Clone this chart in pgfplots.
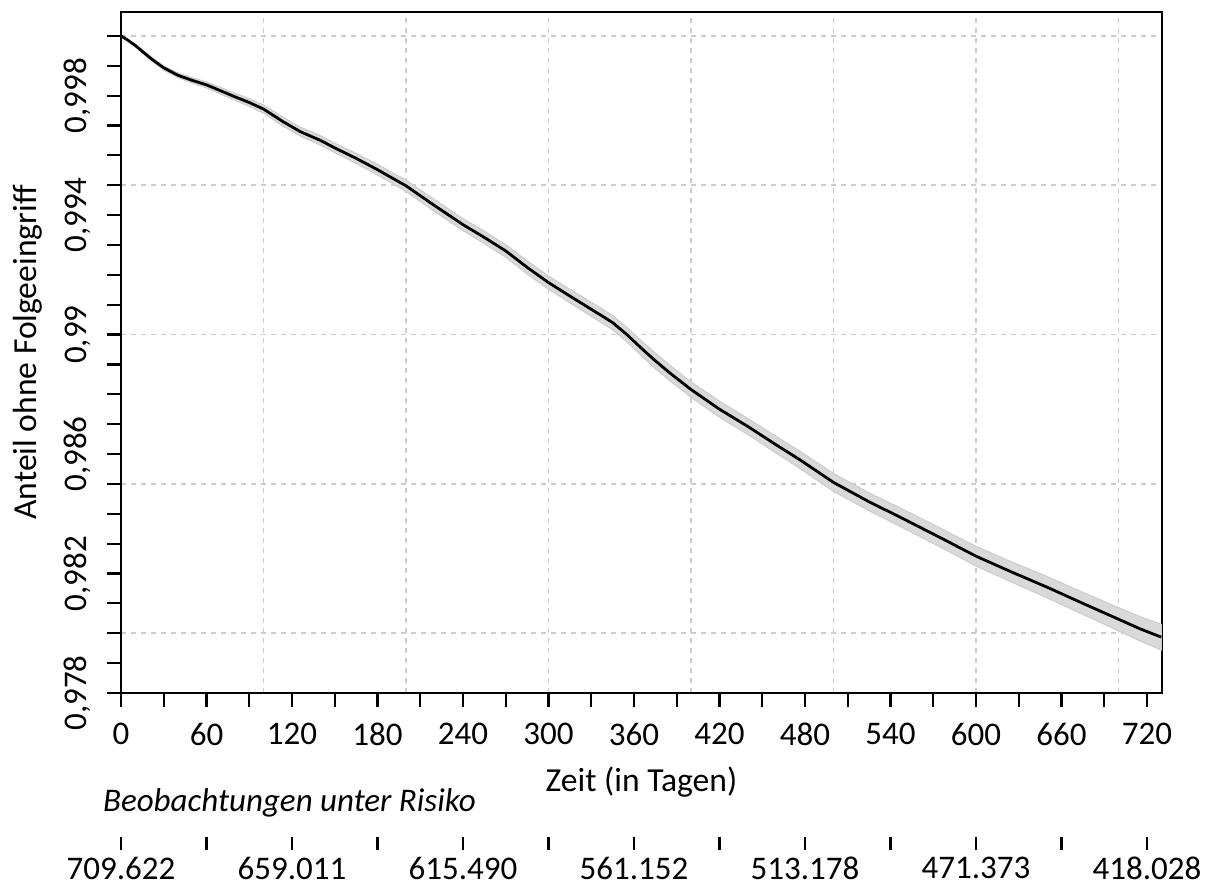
\documentclass[border=0pt]{standalone}
\usepackage{pgfplots}
\pgfplotsset{compat=1.18}
\usepackage{pgfplotstable}
\usepgfplotslibrary{fillbetween}
\usepackage{fontspec}
\setmainfont{Carlito}

\pgfplotstableread{
t s lo hi
0 1.00000 1.00000 1.00000
5 0.99985 0.99983 0.99987
10 0.99968 0.99964 0.99972
15 0.99948 0.99943 0.99953
20 0.99928 0.99922 0.99934
25 0.99910 0.99904 0.99916
30 0.99893 0.99886 0.99900
40 0.99868 0.99860 0.99876
50 0.99851 0.99842 0.99860
60 0.99836 0.99826 0.99846
70 0.99816 0.99805 0.99827
80 0.99796 0.99784 0.99808
90 0.99777 0.99764 0.99790
100 0.99755 0.99741 0.99769
114 0.99712 0.99697 0.99727
126 0.99679 0.99664 0.99694
140 0.99650 0.99634 0.99666
150 0.99625 0.99609 0.99641
165 0.99590 0.99573 0.99607
180 0.99552 0.99534 0.99570
190 0.99525 0.99507 0.99543
200 0.99498 0.99479 0.99517
220 0.99432 0.99412 0.99452
240 0.99368 0.99348 0.99388
255 0.99325 0.99304 0.99346
270 0.99280 0.99259 0.99301
285 0.99225 0.99203 0.99247
300 0.99174 0.99152 0.99196
318 0.99120 0.99097 0.99143
336 0.99067 0.99043 0.99091
345 0.99040 0.99016 0.99064
355 0.99000 0.98976 0.99024
365 0.98955 0.98930 0.98980
375 0.98912 0.98886 0.98938
385 0.98872 0.98846 0.98898
400 0.98816 0.98790 0.98842
420 0.98750 0.98723 0.98777
440 0.98692 0.98665 0.98719
460 0.98630 0.98602 0.98658
476 0.98582 0.98553 0.98611
500 0.98505 0.98475 0.98535
525 0.98440 0.98410 0.98470
547 0.98388 0.98357 0.98419
575 0.98320 0.98288 0.98352
600 0.98258 0.98225 0.98291
625 0.98205 0.98171 0.98239
650 0.98154 0.98118 0.98190
675 0.98100 0.98063 0.98137
700 0.98047 0.98008 0.98086
715 0.98015 0.97974 0.98056
730 0.97987 0.97944 0.98030
}\kmdata

\begin{document}
\begin{tikzpicture}[font=\fontsize{16.5}{20}\selectfont]
\begin{axis}[
  at={(0,0)}, anchor=south west,
  scale only axis, width=520.5pt, height=340.5pt,
  xmin=0, xmax=730.5, ymin=0.978, ymax=1.0008,
  axis line style={line width=1.2pt},
  tick style={black, line width=1.1pt},
  tick align=outside, xtick pos=bottom, ytick pos=left,
  major tick length=7pt,
  xtick={0,30,...,720},
  xticklabels={0,,60,,120,,180,,240,,300,,360,,420,,480,,540,,600,,660,,720},
  ytick={0.978,0.979,0.980,0.981,0.982,0.983,0.984,0.985,0.986,0.987,0.988,0.989,0.990,0.991,0.992,0.993,0.994,0.995,0.996,0.997,0.998,0.999,1.000},
  yticklabels={{0,978},,,,{0,982},,,,{0,986},,,,{0,99},,,,{0,994},,,,{0,998},,},
  tick label style={font=\fontsize{16.5}{20}\selectfont},
  yticklabel style={rotate=90, anchor=base},
  yticklabel shift=10pt,
  xticklabel shift=4.5pt,
  extra x ticks={100,200,300,400,500,600,700}, extra x tick labels={},
  extra y ticks={0.980,0.985,0.990,0.995,1.000}, extra y tick labels={},
  extra x tick style={grid=major, major tick length=0pt},
  extra y tick style={grid=major, major tick length=0pt},
  major grid style={black!20, line width=0.9pt, dash pattern=on 2.5pt off 2.5pt},
  xlabel={Zeit (in Tagen)}, ylabel={Anteil ohne Folgeeingriff},
  label style={font=\fontsize{16.8}{20}\selectfont},
  xlabel style={at={(axis description cs:0.5,0)}, anchor=base, yshift=-49pt},
  ylabel style={at={(axis description cs:-0.0807,0.5)}, anchor=base},
]
\addplot[name path=hi, draw=none] table[x=t,y=hi]{\kmdata};
\addplot[name path=lo, draw=none] table[x=t,y=lo]{\kmdata};
\addplot[fill=black!15, draw=black!20, line width=0.5pt] fill between[of=hi and lo];
\addplot[black, line width=1.4pt] table[x=t,y=s]{\kmdata};
\end{axis}
\begin{axis}[
  at={(0,-72pt)}, anchor=south west,
  scale only axis, width=520.5pt, height=10pt,
  xmin=0, xmax=730.5, ymin=0, ymax=1,
  hide y axis, axis x line*=bottom, x axis line style={draw=none},
  xtick={0,60,...,720},
  xticklabels={709.622,,659.011,,615.490,,561.152,,513.178,,471.373,,418.028},
  tick label style={font=\fontsize{16.5}{20}\selectfont},
  xtick align=outside, major tick length=6.5pt, tick style={black, line width=1.1pt},
]
\addplot[draw=none] coordinates {(0,0) (720,1)};
\end{axis}
\node[anchor=base west, font=\fontsize{16.5}{20}\selectfont\itshape] at (-12.5pt,-59.5pt) {Beobachtungen unter Risiko};
\pgfresetboundingbox
\path[use as bounding box] (-60.5pt,-98pt) rectangle (547.5pt,346.5pt);
\end{tikzpicture}
\end{document}
